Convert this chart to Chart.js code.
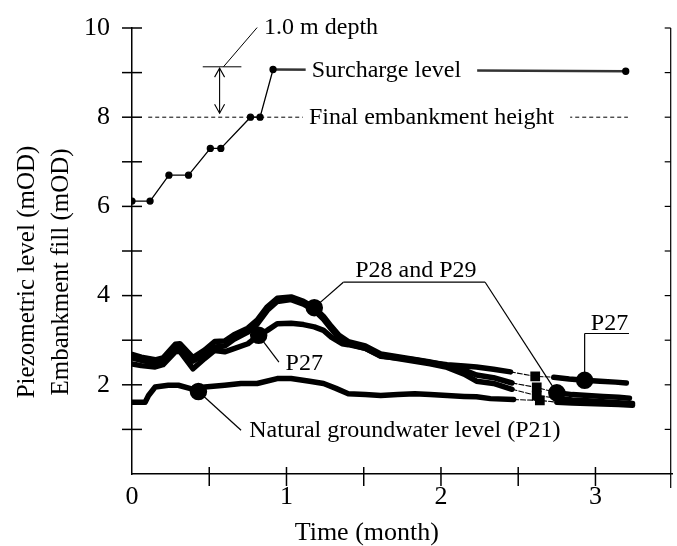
<!DOCTYPE html>
<html><head><meta charset="utf-8">
<script src="https://cdn.jsdelivr.net/npm/chart.js@4/dist/chart.umd.min.js"></script>
<style>html,body{margin:0;padding:0;background:#fff}#wrap{width:677px;height:546px}</style>
</head><body><div id="wrap"><canvas id="c" width="677" height="546"></canvas></div>
<script>
// ---------- data ----------
const xTickLabels = ['0', '1', '2', '3'];
const yTickLabels = ['2', '4', '6', '8', '10'];

const fillTime  = [0, 0.117, 0.239, 0.366, 0.507, 0.575, 0.767, 0.829, 0.913, 3.196];
const fillLevel = [6.12, 6.12, 6.70, 6.70, 7.30, 7.30, 8.00, 8.00, 9.07, 9.03];

const finalTime  = [0.105, 3.21];
const finalLevel = [8.0, 8.0];

const p28Time  = [0, 0.06, 0.15, 0.2, 0.28, 0.31, 0.395, 0.47, 0.535, 0.6, 0.66, 0.75, 0.81, 0.876, 0.94, 1.03, 1.11, 1.18, 1.24, 1.29, 1.34, 1.40, 1.51, 1.61, 1.72, 1.83, 1.93, 2.04, 2.15, 2.23, 2.34, 2.46, 2.62, 2.75, 2.85, 2.95, 3.05, 3.15, 3.22];
const p28Level = [2.68, 2.62, 2.56, 2.60, 2.91, 2.92, 2.61, 2.78, 2.97, 2.98, 3.12, 3.27, 3.45, 3.75, 3.94, 3.97, 3.87, 3.73, 3.53, 3.31, 3.11, 2.97, 2.87, 2.69, 2.63, 2.57, 2.51, 2.43, 2.33, 2.22, 2.16, 2.04, 1.94, 1.82, 1.78, 1.76, 1.74, 1.72, 1.70];

const p29Time  = [0, 0.06, 0.15, 0.2, 0.28, 0.31, 0.395, 0.47, 0.535, 0.6, 0.66, 0.75, 0.81, 0.876, 0.94, 1.03, 1.11, 1.18, 1.24, 1.29, 1.34, 1.40, 1.51, 1.61, 1.72, 1.83, 1.93, 2.04, 2.15, 2.23, 2.34, 2.46, 2.62, 2.75, 2.85, 2.95, 3.05, 3.15, 3.24];
const p29Level = [2.60, 2.55, 2.48, 2.53, 2.83, 2.85, 2.53, 2.68, 2.85, 2.87, 3.02, 3.18, 3.36, 3.67, 3.87, 3.91, 3.81, 3.67, 3.47, 3.25, 3.05, 2.92, 2.82, 2.65, 2.59, 2.53, 2.47, 2.39, 2.24, 2.08, 2.03, 1.90, 1.76, 1.70, 1.66, 1.64, 1.62, 1.60, 1.58];

const p27Time  = [0, 0.06, 0.15, 0.2, 0.28, 0.31, 0.395, 0.47, 0.535, 0.6, 0.66, 0.75, 0.82, 0.876, 0.94, 1.03, 1.11, 1.18, 1.24, 1.29, 1.36, 1.40, 1.51, 1.61, 1.72, 1.83, 1.93, 2.04, 2.15, 2.23, 2.34, 2.45, 2.61, 2.73, 2.83, 2.93, 3.03, 3.13, 3.20];
const p27Level = [2.47, 2.43, 2.40, 2.45, 2.74, 2.75, 2.36, 2.59, 2.77, 2.74, 2.81, 2.92, 3.11, 3.22, 3.37, 3.38, 3.35, 3.30, 3.22, 3.07, 2.92, 2.90, 2.82, 2.64, 2.60, 2.56, 2.50, 2.45, 2.42, 2.40, 2.35, 2.29, 2.19, 2.17, 2.13, 2.10, 2.08, 2.06, 2.04];

const p21Time  = [0, 0.085, 0.107, 0.15, 0.235, 0.30, 0.385, 0.43, 0.47, 0.6, 0.705, 0.81, 0.94, 1.03, 1.15, 1.24, 1.32, 1.40, 1.51, 1.61, 1.72, 1.83, 1.93, 2.04, 2.15, 2.23, 2.32, 2.47, 2.64, 2.75, 2.85, 2.95, 3.05, 3.15, 3.24];
const p21Level = [1.61, 1.61, 1.76, 1.95, 1.99, 1.99, 1.91, 1.85, 1.95, 1.99, 2.03, 2.03, 2.14, 2.14, 2.08, 2.03, 1.92, 1.80, 1.78, 1.76, 1.78, 1.80, 1.78, 1.76, 1.74, 1.73, 1.69, 1.67, 1.65, 1.61, 1.59, 1.58, 1.57, 1.56, 1.54];

// ---------- styling helpers ----------
const FONT = '"Liberation Serif", "Times New Roman", serif';
const pts = (t, v) => t.map((x, i) => ({ x, y: v[i] }));
const gapFrom = 2.44, gapTo = 2.76;          // thin, sparse part of the records
const bigDots = { P21: [0.43], P27: [0.82, 2.93], P28: [1.18, 2.75], P29: [] };
const squareAt = [2.61, 2.62, 2.64];
const LW = 5.5;

function pieDataset(label, t, v) {
  return {
    label, data: pts(t, v), showLine: true,
    borderColor: '#000', backgroundColor: '#000', borderWidth: LW,
    borderJoinStyle: 'round', borderCapStyle: 'round',
    pointStyle: ctx => squareAt.includes(ctx.raw && ctx.raw.x) ? 'rect' : 'circle',
    pointRadius: ctx => {
      const xv = ctx.raw && ctx.raw.x;
      if (bigDots[label].includes(xv)) return 6;
      if (squareAt.includes(xv)) return 3;
      return 0;
    },
    segment: {
      borderWidth: c => (c.p0.parsed.x >= gapFrom && c.p1.parsed.x <= gapTo) ? 1.1 : LW,
      borderDash: c => (c.p0.parsed.x >= gapFrom && c.p1.parsed.x <= gapTo) ? [5, 2] : undefined
    }
  };
}

const annot = {
  id: 'annot',
  afterDatasetsDraw(chart) {
    const { ctx, scales: { x, y }, chartArea: ca } = chart;
    const X = v => x.getPixelForValue(v), Y = v => y.getPixelForValue(v);
    ctx.save();
    ctx.strokeStyle = '#000'; ctx.fillStyle = '#000';

    // axis ticks crossing the left axis
    ctx.lineWidth = 1.5;
    for (let v = 1; v <= 10; v++) {
      ctx.beginPath(); ctx.moveTo(ca.left - 10, Y(v)); ctx.lineTo(ca.left + 10, Y(v)); ctx.stroke();
    }
    // x ticks
    for (let v = 0.5; v <= 3.01; v += 0.5) {
      ctx.beginPath(); ctx.moveTo(X(v), ca.bottom - 7); ctx.lineTo(X(v), ca.bottom + 12); ctx.stroke();
    }
    // right-hand axis
    const rx = ca.right - 2;
    ctx.lineWidth = 1.2;
    ctx.beginPath(); ctx.moveTo(rx, Y(10)); ctx.lineTo(rx, ca.bottom + 14); ctx.stroke();
    for (let v = 1; v <= 10; v++) {
      ctx.beginPath(); ctx.moveTo(rx - 6, Y(v)); ctx.lineTo(rx, Y(v)); ctx.stroke();
    }

    ctx.font = '24px ' + FONT;
    ctx.textBaseline = 'middle';
    ctx.textAlign = 'left';

    const label = (txt, xv, yv, bg) => {
      const w = ctx.measureText(txt).width;
      if (bg) { ctx.fillStyle = '#fff'; ctx.fillRect(X(xv) - 6, Y(yv) - 10, w + 22, 20); ctx.fillStyle = '#000'; }
      ctx.fillText(txt, X(xv), Y(yv));
      return w;
    };
    const line = (x0, y0, x1, y1, lw) => {
      ctx.lineWidth = lw || 1.2;
      ctx.beginPath(); ctx.moveTo(X(x0), Y(y0)); ctx.lineTo(X(x1), Y(y1)); ctx.stroke();
    };

    // Surcharge + final embankment labels (sit on their lines)
    label('Surcharge level', 1.163, 9.05, true);
    label('Final embankment height', 1.145, 7.98, true);

    // 1.0 m depth annotation
    label('1.0 m depth', 0.855, 10.0, false);
    line(0.81, 10.01, 0.592, 9.13, 1);
    line(0.458, 9.13, 0.708, 9.13, 1);
    // double arrow
    const ax = X(0.567), ay0 = Y(9.10), ay1 = Y(8.09);
    ctx.lineWidth = 1.1;
    ctx.beginPath(); ctx.moveTo(ax, ay0); ctx.lineTo(ax, ay1); ctx.stroke();
    ctx.beginPath(); ctx.moveTo(ax - 5, ay0 + 9); ctx.lineTo(ax, ay0); ctx.lineTo(ax + 5, ay0 + 9); ctx.stroke();
    ctx.beginPath(); ctx.moveTo(ax - 5, ay1 - 9); ctx.lineTo(ax, ay1); ctx.lineTo(ax + 5, ay1 - 9); ctx.stroke();

    // P28 and P29
    label('P28 and P29', 1.445, 4.56, false);
    line(1.368, 4.30, 2.286, 4.30, 1.2);
    line(1.368, 4.30, 1.18, 3.73, 1.2);
    line(2.286, 4.30, 2.75, 1.82, 1.2);

    // P27 (middle)
    label('P27', 0.994, 2.48, false);
    line(0.82, 3.11, 0.951, 2.51, 1.2);

    // P27 (right)
    label('P27', 2.97, 3.36, false);
    line(2.93, 3.15, 3.217, 3.15, 1.2);
    line(2.93, 3.15, 2.93, 2.10, 1.2);

    // Natural groundwater level
    label('Natural groundwater level (P21)', 0.759, 0.98, false);
    line(0.43, 1.85, 0.706, 0.98, 1.2);

    // x-axis title
    ctx.textAlign = 'center'; ctx.textBaseline = 'alphabetic';
    ctx.font = '26px ' + FONT;
    ctx.fillText('Time (month)', X(1.52), ca.bottom + 66);

    // y-axis title (two lines)
    ctx.font = '25px ' + FONT;
    ctx.translate(34, 272); ctx.rotate(-Math.PI / 2);
    ctx.fillText('Piezometric level (mOD)', 0, 0);
    ctx.fillText('Embankment fill (mOD)', 0, 34);
    ctx.restore();
  }
};

new Chart(document.getElementById('c'), {
  type: 'scatter',
  data: {
    datasets: [
      { label: 'Embankment fill (surcharge)', data: pts(fillTime, fillLevel), showLine: true,
        borderColor: '#000', backgroundColor: '#000', borderWidth: 1.3, pointRadius: 3, pointHoverRadius: 3,
        segment: { borderWidth: c => c.p0.parsed.x > 0.9 ? 2.4 : 1.3, borderColor: c => c.p0.parsed.x > 0.9 ? '#333' : '#000' } },
      { label: 'Final embankment height', data: pts(finalTime, finalLevel), showLine: true,
        borderColor: '#000', borderWidth: 1, borderDash: [4, 3], pointRadius: 0 },
      pieDataset('P27', p27Time, p27Level),
      pieDataset('P28', p28Time, p28Level),
      pieDataset('P29', p29Time, p29Level),
      pieDataset('P21', p21Time, p21Level)
    ]
  },
  options: {
    responsive: false, animation: false,
    layout: { padding: { top: 28, right: 0, left: 0, bottom: 0 } },
    plugins: { legend: { display: false }, tooltip: { enabled: false } },
    scales: {
      x: {
        type: 'linear', min: 0, max: 3.5,
        afterFit: s => { s.height = 72; s.paddingLeft = 0; s.paddingRight = 0; },
        grid: { display: false, drawTicks: false },
        border: { display: true, color: '#000', width: 1.5 },
        ticks: { stepSize: 0.5, includeBounds: false, padding: 8, color: '#000', maxRotation: 0, autoSkip: false,
          font: { family: FONT, size: 26 },
          callback: v => { const s = String(Math.round(v * 1000) / 1000); return xTickLabels.includes(s) ? s : ''; } },
        title: { display: false, text: 'Time (month)' }
      },
      y: {
        type: 'linear', min: 0, max: 10,
        afterFit: s => { s.width = 132; s.paddingTop = 0; s.paddingBottom = 0; },
        grid: { display: false, drawTicks: false },
        border: { display: true, color: '#000', width: 1.5 },
        ticks: { stepSize: 1, padding: 22, color: '#000', autoSkip: false,
          font: { family: FONT, size: 26 },
          callback: v => { const s = String(Math.round(v * 1000) / 1000); return yTickLabels.includes(s) ? s : ''; } },
        title: { display: false, text: 'Piezometric level (mOD) / Embankment fill (mOD)' }
      }
    }
  },
  plugins: [annot]
});
</script></body></html>
